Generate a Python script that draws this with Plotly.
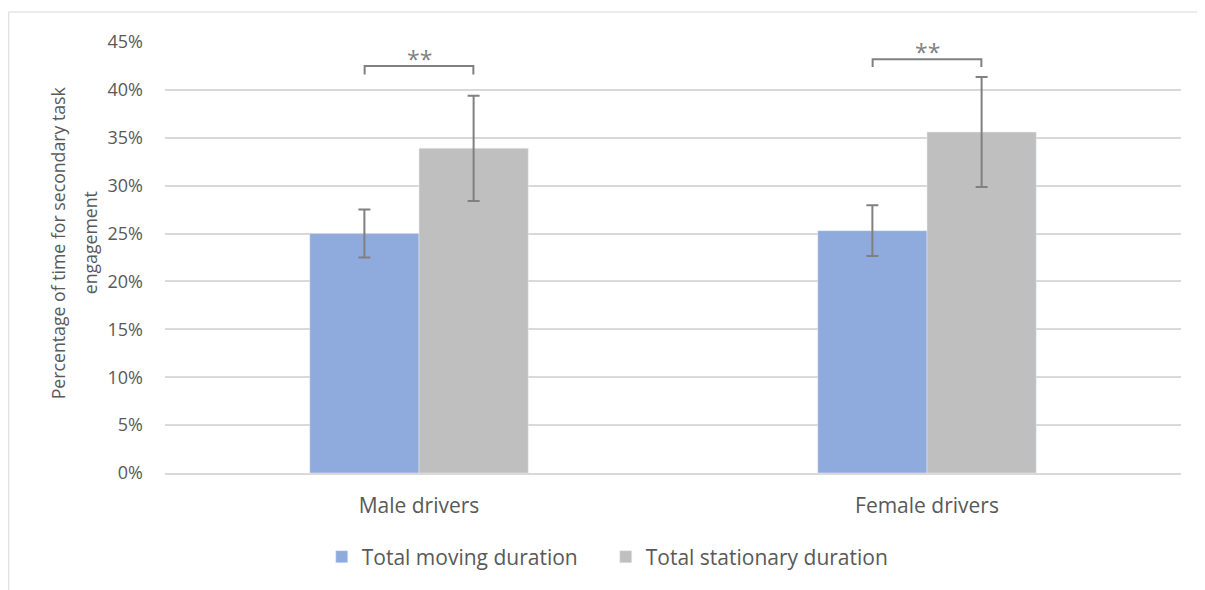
import plotly.graph_objects as go

categories = ["Male drivers", "Female drivers"]
moving = [0.250, 0.253]
moving_err = [0.025, 0.0265]
stationary = [0.339, 0.356]
stationary_err = [0.055, 0.0575]
series_names = ["Total moving duration", "Total stationary duration"]
sig_labels = ["**", "**"]
bracket_top = [0.425, 0.432]
bracket_foot = [0.416, 0.424]
star_y = [0.425, 0.432]
y_ticks = [0, 0.05, 0.10, 0.15, 0.20, 0.25, 0.30, 0.35, 0.40, 0.45]
title_lines = ["Percentage of time for secondary task", "engagement"]

FONT = "Open Sans"
TXT = "#595959"
ERR = "#808080"

fig = go.Figure()
fig.add_bar(x=categories, y=moving, name=series_names[0], marker_color="#8FAADC",
            error_y=dict(type="data", array=moving_err, visible=True, color=ERR, thickness=2, width=6))
fig.add_bar(x=categories, y=stationary, name=series_names[1], marker_color="#BFBFBF",
            error_y=dict(type="data", array=stationary_err, visible=True, color=ERR, thickness=2, width=6))

half = 0.107
for i, lab in enumerate(sig_labels):
    fig.add_shape(type="path", xref="x", yref="y",
                  path=f"M {i-half} {bracket_foot[i]} L {i-half} {bracket_top[i]} L {i+half} {bracket_top[i]} L {i+half} {bracket_foot[i]}",
                  line=dict(color=ERR, width=2))
    fig.add_annotation(x=i, y=star_y[i], xref="x", yref="y", text=lab, showarrow=False,
                       font=dict(family=FONT, size=23, color=ERR), yanchor="bottom", yshift=-11)

# outer chart border
fig.add_shape(type="rect", xref="paper", yref="paper", x0=-0.1538, x1=1.05, y0=-0.5, y1=1.0696,
              line=dict(color="#d9d9d9", width=1), fillcolor="rgba(0,0,0,0)", layer="below")

title_x = [-0.1053, -0.0738]
for tx, line in zip(title_x, title_lines):
    fig.add_annotation(x=tx, y=0.533, xref="paper", yref="paper", textangle=-90,
                       text=line, showarrow=False,
                       font=dict(family=FONT, size=17.7, color=TXT), xanchor="center", yanchor="middle")

fig.update_layout(
    width=1205, height=590,
    margin=dict(l=157, r=32, t=34, b=125, pad=0),
    paper_bgcolor="white", plot_bgcolor="white",
    barmode="group", bargap=0.57, bargroupgap=0,
    font=dict(family=FONT, size=16, color=TXT),
    showlegend=True,
    legend=dict(orientation="h", x=0.4338, xanchor="center", y=-0.195, yanchor="middle",
                entrywidth=239, entrywidthmode="pixels",
                font=dict(family=FONT, size=21, color=TXT)),
    xaxis=dict(showgrid=False, showline=True, linecolor="#d9d9d9", linewidth=1.5, ticks="",
               ticklabelstandoff=13,
               tickfont=dict(family=FONT, size=21, color=TXT)),
    yaxis=dict(range=[0, 0.45], tickvals=y_ticks, tickformat=".0%", showgrid=True, gridcolor="#d9d9d9",
               gridwidth=1.5, zeroline=False, showline=False, ticks="", ticklabelstandoff=21,
               tickfont=dict(family=FONT, size=18, color=TXT)),
)

fig.write_html("out.html")
